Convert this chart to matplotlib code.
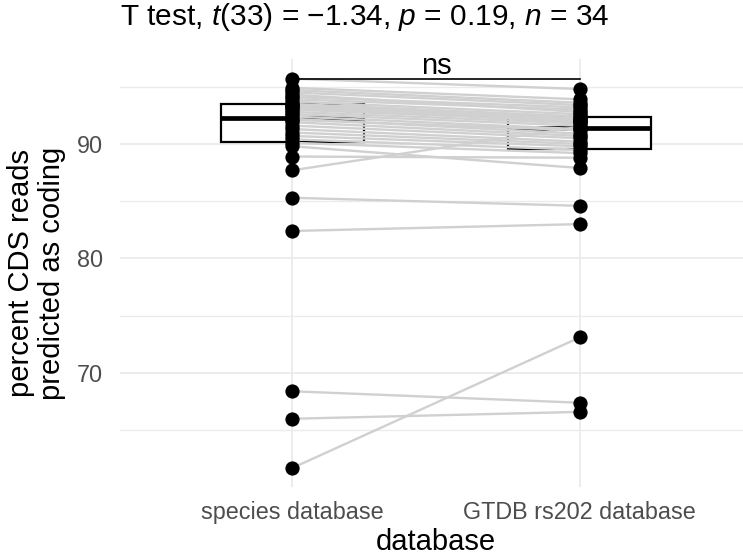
import matplotlib
matplotlib.use("Agg")
import matplotlib.pyplot as plt
from matplotlib.ticker import MultipleLocator
import numpy as np

plt.rcParams['font.family'] = ['Liberation Sans', 'DejaVu Sans']
plt.rcParams['mathtext.fontset'] = 'custom'
plt.rcParams['mathtext.it'] = 'Liberation Sans:italic'
plt.rcParams['mathtext.rm'] = 'Liberation Sans'

categories = ["species database", "GTDB rs202 database"]
species = [95.7, 94.9, 94.7, 94.5, 94.3, 94.1, 93.9, 93.7, 93.5, 93.4, 93.3, 93.2,
           93.1, 93.0, 92.8, 92.6, 92.4, 92.2, 92.1, 91.9, 91.6, 91.3, 91.0, 90.7,
           90.4, 90.1, 89.8, 88.9, 87.7, 85.3, 82.4, 68.4, 66.0, 61.7]
gtdb = [94.8, 93.9, 93.6, 93.4, 92.8, 93.2, 93.0, 92.6, 92.4, 92.25, 91.9, 92.2,
        92.1, 92.0, 91.8, 91.6, 91.3, 90.9, 91.2, 90.7, 90.5, 90.2, 90.0, 89.8,
        89.5, 89.2, 87.9, 88.8, 91.5, 84.6, 83.0, 67.4, 66.6, 73.1]
yticks = [70, 80, 90]
title_text = "T test, $t$(33) = \u22121.34, $p$ = 0.19, $n$ = 34"
sig_label = "ns"

W, H = 743, 558
fig = plt.figure(figsize=(W / 100, H / 100), dpi=100)
left, right, top, bottom = 120, 752, 59, 487
ax = fig.add_axes([left / W, 1 - bottom / H, (right - left) / W, (bottom - top) / H])

# boxes
bp = ax.boxplot([species, gtdb], positions=[1, 2], widths=0.5, whis=0,
                showfliers=False, showcaps=False, patch_artist=True, zorder=2)
for b in bp['boxes']:
    b.set_facecolor('white'); b.set_edgecolor('black'); b.set_linewidth(1.6)
for m in bp['medians']:
    m.set_color('black'); m.set_linewidth(3.4)
for w in bp['whiskers']:
    w.set_visible(False)

# paired lines
for a, b in zip(species, gtdb):
    ax.plot([1, 2], [a, b], color='#D0D0D0', lw=1.7, zorder=3, solid_capstyle='butt')

# points
ax.scatter([1] * len(species), species, s=105, color='black', zorder=4, linewidths=0)
ax.scatter([2] * len(gtdb), gtdb, s=105, color='black', zorder=4, linewidths=0)

# bracket
ymax = max(max(species), max(gtdb))
ax.plot([1, 2], [ymax, ymax], color='black', lw=1.2, zorder=5)
ax.text(1.5, ymax + 0.45, sig_label, ha='center', va='baseline', fontsize=21, zorder=5)

ax.set_xlim(0.4, 2.6)
ax.set_ylim(60.04, 97.42)
ax.set_xticks([1, 2])
ax.set_xticklabels(categories)
ax.set_yticks(yticks)
ax.yaxis.set_minor_locator(MultipleLocator(5))
ax.grid(True, which='major', color='#EBEBEB', lw=1.3, zorder=0)
ax.grid(True, which='minor', axis='y', color='#EBEBEB', lw=1.0, zorder=0)
ax.set_axisbelow(True)
for s in ax.spines.values():
    s.set_visible(False)
ax.tick_params(axis='both', which='both', length=0, labelsize=16.8, labelcolor='#4D4D4D')
ax.tick_params(axis='y', pad=12)
ax.tick_params(axis='x', pad=10)

ax.set_xlabel("database", fontsize=21, color='black', labelpad=3)
ax.set_ylabel("percent CDS reads\npredicted as coding", fontsize=21, color='black',
              labelpad=8, linespacing=1.15)
fig.text(left / W, 1 - 17 / H, title_text, fontsize=21.5, ha='left', va='center')

fig.savefig("out.png", dpi=100)
